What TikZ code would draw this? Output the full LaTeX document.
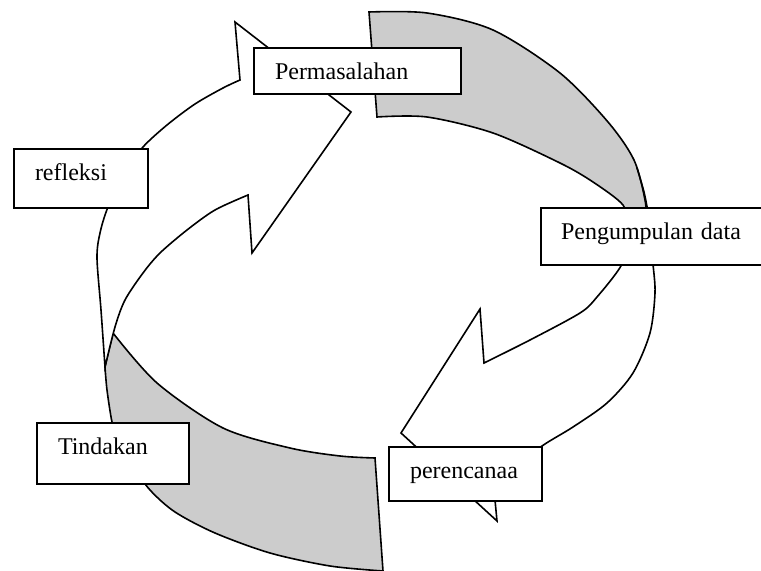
\documentclass[tikz,border=0pt]{standalone}
\usepackage{fontspec}
\setmainfont{Liberation Serif}

\begin{document}
\begin{tikzpicture}[x=0.5pt,y=-0.5pt,
  box/.style={draw,fill=white,line width=1pt,anchor=north west,align=left,
    inner xsep=10.5pt,inner ysep=0pt,text height=16pt,font=\fontsize{12}{14}\selectfont},
  back/.style={draw,fill=black!20,line width=0.8pt},
  front/.style={draw,fill=white,line width=0.8pt}
]
  \clip (0,0) rectangle (761,571);
  \fill[white] (0,0) rectangle (761,571);

  \path[back] plot[smooth] coordinates {(369,12) (427,13) (493,30) (560,73) (608,122) (634,160) (645,200) (647,225)}
    -- plot[smooth] coordinates {(626,225) (623,205) (593,182) (560,163) (493,133) (427,117) (377,117)} -- cycle;
  \path[front] plot[smooth] coordinates {(647,212) (651,240) (653,264) (655,293) (650,333) (633,373) (607,403) (573,427) (542,446) (515,468) (497,488) (495,500)}
    -- (497,521) -- (401,433) -- (480,309)
    -- plot[smooth] coordinates {(484,363) (530,340) (580,313) (597,297) (622,264) (627,235) (628,212)} -- cycle;
  \draw[line width=0.8pt] plot[smooth] coordinates {(637,168) (644,192) (648,212)};

  \path[back] (375,458) -- plot[smooth] coordinates {(383,571) (330,566) (270,553) (215,533) (175,512) (150,490) (132,465) (118,440) (112,422) (107,390) (105,367)}
    -- plot[smooth] coordinates {(113,333) (157,383) (223,428) (290,448) (340,456) (375,458)} -- cycle;
  \path[front] plot[smooth] coordinates {(105,367) (101,310) (97,258) (100,233) (108,207) (125,172) (143,147) (167,125) (195,104) (223,88) (240,80)}
    -- (235,22) -- (351,112) -- (252,253)
    -- plot[smooth] coordinates {(248,195) (215,210) (187,230) (160,253) (143,273) (125,300) (115,327) (105,367)} -- cycle;

  \node[box,text width=82.5pt,text depth=7pt] (perm) at (253,47) {Permasalahan};
  \node[box,text width=46pt,text depth=13.5pt] (refl) at (13,148) {refleksi};
  \node[box,text width=92pt,text depth=12.5pt,inner xsep=10pt] (peng) at (540,207) {Pengumpulan data};
  \node[box,text width=55.5pt,text depth=11pt] (pere) at (388,446) {perencanaa};
  \node[box,text width=55pt,text depth=14.5pt] (tind) at (36,422) {Tindakan};
\end{tikzpicture}
\end{document}
